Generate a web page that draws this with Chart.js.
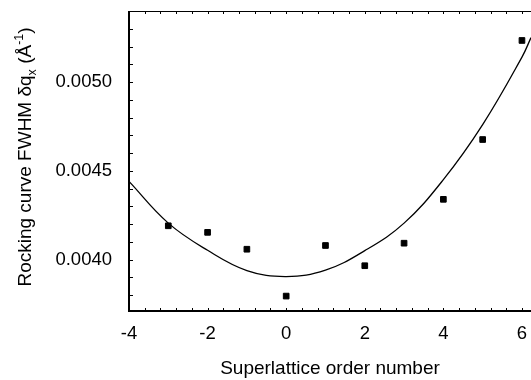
<!DOCTYPE html>
<html lang="en">
<head>
  <meta charset="UTF-8">
  <title>Rocking curve FWHM</title>
  <script src="https://cdn.jsdelivr.net/npm/chart.js"></script>
  <style>
    body { margin: 0; background: #fff; overflow: hidden; }
  </style>
</head>
<body>
  <canvas id="fwhmChart" width="531" height="380"></canvas>

  <script>
    // measured points
    const orders = [-3, -2, -1, 0, 1, 2, 3, 4, 5, 6];
    const fwhm = [0.00419, 0.004153, 0.004058, 0.003794, 0.004079, 0.003965, 0.004092, 0.004339, 0.004676, 0.005234];

    // fitted curve
    const fitX = [-4, -3, -2, -1, 0, 1, 2, 3, 4, 5, 6, 6.23];
    const fitY = [0.004440, 0.004205, 0.004052, 0.003938, 0.003904, 0.003940, 0.004050, 0.004205, 0.004450, 0.004760, 0.005140, 0.005250];

    const xTicks = [-4, -2, 0, 2, 4, 6];
    const yTicks = [0.0040, 0.0045, 0.0050];

    const FONT = "'Liberation Sans', Arial, sans-serif";

    // frame (left, bottom, top) with inward ticks + y axis title
    const framePlugin = {
      id: 'frame',
      afterDraw(chart) {
        const { ctx, chartArea: a, scales: { x, y } } = chart;
        ctx.save();
        ctx.strokeStyle = '#000';

        ctx.lineWidth = 1;
        ctx.beginPath();
        ctx.moveTo(a.left, a.top + 0.5);
        ctx.lineTo(a.right, a.top + 0.5);
        ctx.stroke();

        ctx.lineWidth = 2;
        ctx.beginPath();
        ctx.moveTo(a.left, a.top);
        ctx.lineTo(a.left, a.bottom);
        ctx.lineTo(a.right, a.bottom);
        ctx.stroke();

        ctx.lineWidth = 1;
        ctx.beginPath();
        for (let i = 0; i <= 30; i++) {
          const v = -4 + i * 0.4;
          const px = Math.round(x.getPixelForValue(v)) + 0.5;
          if (px > a.right) break;
          ctx.moveTo(px, a.bottom);
          ctx.lineTo(px, a.bottom - 3);
          ctx.moveTo(px, a.top);
          ctx.lineTo(px, a.top + 3);
        }
        for (let i = 37; i <= 54; i++) {
          const v = i / 10000;
          const py = Math.round(y.getPixelForValue(v)) + 0.5;
          if (py > a.bottom || py < a.top) continue;
          ctx.moveTo(a.left, py);
          ctx.lineTo(a.left + 4, py);
        }
        ctx.stroke();

        // y title with sub/superscript
        const big = '19px ' + FONT, small = '12.5px ' + FONT;
        const parts = [
          ['Rocking curve FWHM \u03b4q', big, 0],
          ['x', small, 5],
          [' (\u00c5', big, 0],
          ['-1', small, -8],
          [')', big, 0]
        ];
        let total = 0;
        parts.forEach(p => { ctx.font = p[1]; total += ctx.measureText(p[0]).width; });
        ctx.translate(31, (a.top + a.bottom) / 2 - 4);
        ctx.rotate(-Math.PI / 2);
        ctx.fillStyle = '#000';
        ctx.textBaseline = 'alphabetic';
        let cx = -total / 2;
        parts.forEach(p => {
          ctx.font = p[1];
          ctx.fillText(p[0], cx, p[2]);
          cx += ctx.measureText(p[0]).width;
        });
        ctx.restore();
      }
    };

    const noOverhang = s => {
      s.paddingLeft = 0; s.paddingRight = 0;
      s.paddingTop = 0; s.paddingBottom = 0;
    };

    new Chart(document.getElementById('fwhmChart'), {
      type: 'scatter',
      data: {
        datasets: [
          {
            label: 'fit',
            data: fitX.map((v, i) => ({ x: v, y: fitY[i] })),
            showLine: true,
            borderColor: '#000',
            borderWidth: 1.3,
            pointRadius: 0,
            tension: 0.4,
            fill: false
          },
          {
            label: 'FWHM',
            data: orders.map((v, i) => ({ x: v, y: fwhm[i] })),
            pointStyle: 'rect',
            pointRadius: 4,
            pointBorderWidth: 1,
            backgroundColor: '#000',
            borderColor: '#000'
          }
        ]
      },
      options: {
        responsive: false,
        animation: false,
        layout: { autoPadding: false, padding: { top: 11, right: 0, left: 0, bottom: 0 } },
        plugins: {
          legend: { display: false },
          tooltip: { enabled: false }
        },
        scales: {
          x: {
            type: 'linear',
            min: -4,
            max: 6.23,
            afterBuildTicks: s => { s.ticks = xTicks.map(v => ({ value: v })); },
            afterFit: s => { s.height = 69; noOverhang(s); },
            grid: { display: false },
            border: { display: false },
            ticks: {
              color: '#000',
              font: { family: FONT, size: 18.5 },
              padding: 4,
              maxRotation: 0,
              callback: v => String(v)
            },
            title: {
              display: true,
              text: 'Superlattice order number',
              color: '#000',
              font: { family: FONT, size: 19 },
              padding: { top: 12, bottom: 0 }
            }
          },
          y: {
            min: 0.00371,
            max: 0.0054,
            afterBuildTicks: s => { s.ticks = yTicks.map(v => ({ value: v })); },
            afterFit: s => { s.width = 129; noOverhang(s); },
            grid: { display: false },
            border: { display: false },
            ticks: {
              color: '#000',
              font: { family: FONT, size: 18.5 },
              padding: 9,
              callback: v => v.toFixed(4)
            }
          }
        }
      },
      plugins: [framePlugin]
    });
  </script>
</body>
</html>
